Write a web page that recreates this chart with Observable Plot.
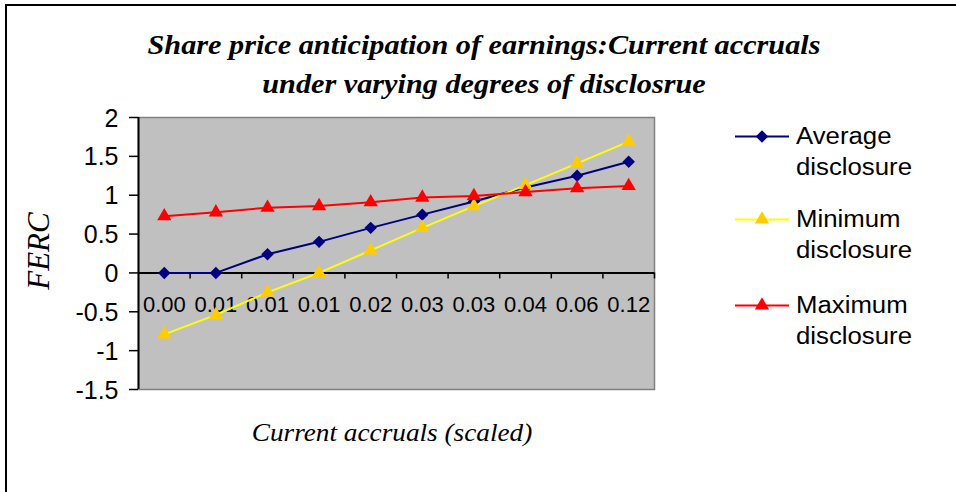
<!DOCTYPE html>
<html>
<head>
<meta charset="utf-8">
<script src="https://cdn.jsdelivr.net/npm/d3@7"></script>
<script src="https://cdn.jsdelivr.net/npm/@observablehq/plot@0.6"></script>
<style>
  html, body { margin: 0; padding: 0; background: #fff; overflow: hidden; }
  #wrap { position: relative; width: 956px; height: 492px; overflow: hidden; background: #fff; }
  #border { position: absolute; left: 5px; top: 4px; width: 1100px; height: 700px; border: 2px solid #000; box-sizing: border-box; }
  #title { position: absolute; left: 484px; top: 25px; transform: translateX(-50%) scaleX(1.08); width: 800px; text-align: center; font-family: "Liberation Serif", "Times New Roman", serif; font-weight: bold; font-style: italic; font-size: 28px; line-height: 39px; color: #000; white-space: nowrap; }
  #ylab { position: absolute; left: 39px; top: 251px; transform: translate(-50%, -50%) rotate(-90deg); font-family: "Liberation Serif", "Times New Roman", serif; font-style: italic; font-size: 31px; white-space: nowrap; }
  #xlab { position: absolute; left: 392px; top: 433px; transform: translate(-50%, -50%) scaleX(1.09); font-family: "Liberation Serif", "Times New Roman", serif; font-style: italic; font-size: 25px; white-space: nowrap; }
  .leg { position: absolute; left: 735px; display: flex; align-items: flex-start; }
  .leg svg { flex: none; }
  .leg .t { font-family: "Liberation Sans", Arial, sans-serif; font-size: 23px; line-height: 31px; margin-left: 7px; color: #000; transform: scaleX(1.12); transform-origin: left center; white-space: nowrap; }
  #chart { position: absolute; left: 0; top: 0; }
</style>
</head>
<body>
<div id="wrap">
  <div id="chart"></div>
  <div id="border"></div>
  <div id="title">Share price anticipation of earnings:Current accruals<br>under varying degrees of disclosrue</div>
  <div id="ylab">FERC</div>
  <div id="xlab">Current accruals (scaled)</div>
  <div id="legend"></div>
</div>
<script>
// ---- data ----
const categories = ["0.00", "0.01", "0.01", "0.01", "0.02", "0.03", "0.03", "0.04", "0.06", "0.12"];
const averageDisclosure = [0, 0, 0.24, 0.40, 0.58, 0.75, 0.92, 1.10, 1.25, 1.43];
const minimumDisclosure = [-0.79, -0.54, -0.25, 0.00, 0.29, 0.58, 0.86, 1.13, 1.41, 1.69];
const maximumDisclosure = [0.73, 0.78, 0.84, 0.86, 0.91, 0.97, 0.99, 1.04, 1.09, 1.12];
const yTicks = [-1.5, -1, -0.5, 0, 0.5, 1, 1.5, 2];
const seriesNames = ["Average disclosure", "Minimum disclosure", "Maximum disclosure"];

// ---- styles ----
const seriesStyle = [
  {line: "#000080", fill: "#000080", symbol: "diamond2", r: 5.6},
  {line: "#FFFF00", fill: "#FFCC00", symbol: "triangle", r: 5.3},
  {line: "#FF0000", fill: "#FF0000", symbol: "triangle", r: 5.3}
];
const seriesValues = [averageDisclosure, minimumDisclosure, maximumDisclosure];

const idx = categories.map((_, i) => i);
const boundaries = d3.range(categories.length + 1).map(i => i - 0.5);
const left = boundaries[0];

const marks = [
  Plot.frame({fill: "#C0C0C0", stroke: "#808080", strokeWidth: 1.5}),
  Plot.ruleY([0], {stroke: "#000", strokeWidth: 2}),
  Plot.ruleX(boundaries.slice(1), {x: d => d, y1: 0, y2: 0, insetBottom: -6, stroke: "#000", strokeWidth: 1.5}),
  Plot.ruleX([left], {x: d => d, stroke: "#000", strokeWidth: 2}),
  Plot.ruleY(yTicks, {y: d => d, x1: left, x2: left, insetLeft: -9, stroke: "#000", strokeWidth: 1.5}),
  Plot.text(yTicks, {x: left, y: d => d, text: d => String(d), dx: -20, dy: 1, textAnchor: "end", fontSize: 25, fill: "#000"}),
  Plot.text(idx, {x: i => i, y: () => 0, text: i => categories[i], dy: 32, fontSize: 22, fill: "#000"})
];
seriesValues.forEach((vals, s) => {
  const st = seriesStyle[s];
  marks.push(Plot.line(idx, {x: i => i, y: i => vals[i], stroke: st.line, strokeWidth: 2}));
  marks.push(Plot.dot(idx, {x: i => i, y: i => vals[i], symbol: st.symbol, r: st.r, fill: st.fill, stroke: "none"}));
});

const chart = Plot.plot({
  width: 956,
  height: 492,
  marginLeft: 138,
  marginRight: 302,
  marginTop: 117,
  marginBottom: 103,
  style: {fontFamily: "'Liberation Sans', Arial, sans-serif", fontSize: "21px", color: "#000", background: "transparent", overflow: "visible"},
  x: {type: "linear", domain: [-0.5, categories.length - 0.5], axis: null},
  y: {domain: [-1.5, 2], axis: null},
  marks
});
document.getElementById("chart").appendChild(chart);

// ---- legend ----
const legend = document.getElementById("legend");
const legendTops = [136, 219.5, 305];
seriesNames.forEach((name, s) => {
  const st = seriesStyle[s];
  const item = document.createElement("div");
  item.className = "leg";
  item.style.top = (legendTops[s] - 15.5) + "px";
  const sym = st.symbol === "diamond2" ? d3.symbolDiamond2 : d3.symbolTriangle;
  const path = d3.symbol(sym, Math.PI * st.r * st.r)();
  item.innerHTML = `<svg width="54" height="31"><line x1="0" x2="54" y1="15.5" y2="15.5" stroke="${st.line}" stroke-width="2"/><path transform="translate(27,15.5)" d="${path}" fill="${st.fill}"/></svg>` +
    `<div class="t">${name.replace(" ", "<br>")}</div>`;
  legend.appendChild(item);
});
</script>
</body>
</html>
